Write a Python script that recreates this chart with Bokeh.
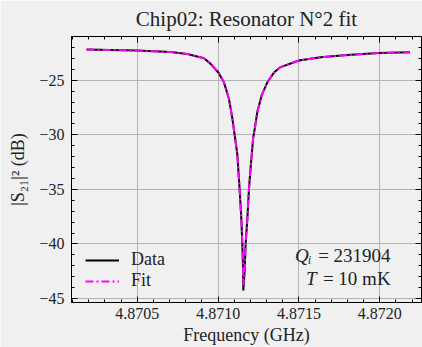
from bokeh.plotting import figure
from bokeh.models import LinearAxis, Range1d, Label, Legend, LegendItem, FixedTicker
from bokeh.embed import file_html
from bokeh.resources import INLINE

# --- data ---
freq_data = [4.8701863, 4.8703348, 4.8705000, 4.8707061, 4.8708094, 4.8709121,
             4.8709536, 4.8710012, 4.8710359, 4.8710668, 4.8710879, 4.8711021,
             4.8711188, 4.8711330, 4.8711436, 4.8711497, 4.8711535, 4.8711559,
             4.8711640, 4.8711702, 4.8711807, 4.8711906, 4.8712011, 4.8712166,
             4.8712270, 4.8712426, 4.8712692, 4.8713044, 4.8713453, 4.8713867,
             4.8715000, 4.8716343, 4.8717995, 4.8719950, 4.8721869]
s21_data = [-22.20, -22.24, -22.28, -22.43, -22.60, -23.00,
            -23.50, -24.30, -25.20, -26.70, -28.50, -30.00,
            -31.80, -35.00, -37.70, -40.00, -41.90, -44.25,
            -42.50, -40.00, -37.70, -35.00, -33.00, -30.30,
            -29.40, -27.90, -26.40, -25.20, -24.30, -23.80,
            -23.20, -22.90, -22.70, -22.50, -22.45]
freq_fit = freq_data
s21_fit = [-22.20, -22.24, -22.28, -22.43, -22.60, -23.00,
           -23.50, -24.30, -25.20, -26.70, -28.50, -30.00,
           -31.80, -35.00, -37.70, -40.00, -41.90, -43.80,
           -42.50, -40.00, -37.70, -35.00, -33.00, -30.30,
           -29.40, -27.90, -26.40, -25.20, -24.30, -23.80,
           -23.20, -22.90, -22.70, -22.50, -22.45]

x_ticks = [4.8705, 4.8710, 4.8715, 4.8720]
x_tick_labels = ["4.8705", "4.8710", "4.8715", "4.8720"]
y_ticks = [-45, -40, -35, -30, -25]
y_tick_labels = ["\u221245", "\u221240", "\u221235", "\u221230", "\u221225"]

title_text = "Chip02: Resonator N\u00b02 fit"
qi_text = "= 231904"
t_text = "= 10 mK"

SERIF = "Liberation Serif"
BG = "#f0f0f0"
TXT = "#222222"

X0, X1 = 4.870093, 4.872258
Y0, Y1 = -45.36, -21.0

p = figure(width=422, height=347, output_backend="svg", toolbar_location=None,
           x_range=Range1d(X0, X1), y_range=Range1d(Y0, Y1),
           min_border_left=71, min_border_right=1, min_border_top=33, min_border_bottom=42)
p.background_fill_color = BG
p.border_fill_color = BG
p.outline_line_color = "black"
p.outline_line_width = 1

p.title.text = title_text
p.title.text_font = SERIF
p.title.text_font_size = "21px"
p.title.text_font_style = "normal"
p.title.text_color = TXT
p.title.align = "center"
p.title.vertical_align = "middle"
p.title.offset = 0

xb = p.xaxis[0]
yl = p.yaxis[0]

# minor tick positions
xm = []
for a, b in zip([4.8700] + x_ticks, x_ticks + [4.8725]):
    for k in range(1, 5):
        xm.append(a + (b - a) * k / 5)
ym = []
for a, b in zip([-50] + y_ticks, y_ticks + [-20]):
    for k in range(1, 5):
        ym.append(a + (b - a) * k / 5)

def style_axis(ax, ticks, minor, labels, show_labels):
    ax.ticker = FixedTicker(ticks=ticks, minor_ticks=minor)
    ax.axis_line_color = "black"
    ax.major_tick_in = 6
    ax.major_tick_out = 0
    ax.minor_tick_in = 3
    ax.minor_tick_out = 0
    ax.major_tick_line_color = "black"
    ax.minor_tick_line_color = "black"
    ax.major_label_text_font = SERIF
    ax.major_label_text_color = TXT
    if show_labels:
        ax.major_label_overrides = dict(zip(ticks, labels))
        ax.major_label_text_font_size = "16px"
        ax.major_label_standoff = 5
    else:
        ax.major_label_overrides = {t: "" for t in ticks}
        ax.major_label_text_font_size = "1px"
        ax.major_label_standoff = 0
        ax.major_label_text_alpha = 0

style_axis(xb, x_ticks, xm, x_tick_labels, True)
style_axis(yl, y_ticks, ym, y_tick_labels, True)
yl.major_label_standoff = 7

top = LinearAxis(fixed_location=Y1)
style_axis(top, x_ticks, xm, x_tick_labels, False)
p.add_layout(top, "above")
right = LinearAxis(fixed_location=X1)
style_axis(right, y_ticks, ym, y_tick_labels, False)
p.add_layout(right, "right")

xb.axis_label = "Frequency (GHz)"
yl.axis_label = "|S\u2082\u2081|\u00b2 (dB)"
for ax in (xb, yl):
    ax.axis_label_text_font = SERIF
    ax.axis_label_text_font_size = "18px"
    ax.axis_label_text_font_style = "normal"
    ax.axis_label_text_color = TXT
xb.axis_label_standoff = 3
yl.axis_label_standoff = 8

p.xgrid.ticker = FixedTicker(ticks=x_ticks)
p.ygrid.ticker = FixedTicker(ticks=y_ticks)
p.grid.grid_line_color = "#b4b4b4"
p.grid.grid_line_width = 1

r_data = p.line(freq_data, s21_data, line_color="black", line_width=2)
r_fit = p.line(freq_fit, s21_fit, line_color="#ff00ff", line_width=2, line_dash="8 3 2 3")

legend = Legend(items=[LegendItem(label="Data", renderers=[r_data]),
                       LegendItem(label="Fit", renderers=[r_fit])],
                location=(4, 1))
legend.background_fill_alpha = 0
legend.border_line_alpha = 0
legend.label_text_font = SERIF
legend.label_text_font_size = "18px"
legend.label_text_color = TXT
legend.glyph_width = 34
legend.spacing = 0
legend.label_standoff = 12
p.add_layout(legend, "center")

lab1 = Label(x=4.872067, y=-41.05, text=qi_text, text_align="right", text_baseline="middle",
             text_font=SERIF, text_font_size="19px", text_color=TXT)
lab1q = Label(x=4.872067, y=-41.05, text="Q\u1d62", text_align="right", text_baseline="middle",
              text_font=SERIF, text_font_size="19px", text_color=TXT, text_font_style="italic",
              x_offset=-79)
lab2 = Label(x=4.872067, y=-43.15, text=t_text, text_align="right", text_baseline="middle",
             text_font=SERIF, text_font_size="19px", text_color=TXT)
lab2t = Label(x=4.872067, y=-43.15, text="T", text_align="right", text_baseline="middle",
              text_font=SERIF, text_font_size="19px", text_color=TXT, text_font_style="italic",
              x_offset=-74)
for l in (lab1, lab1q, lab2, lab2t):
    p.add_layout(l)

open("out.html", "w").write(file_html(p, INLINE))
